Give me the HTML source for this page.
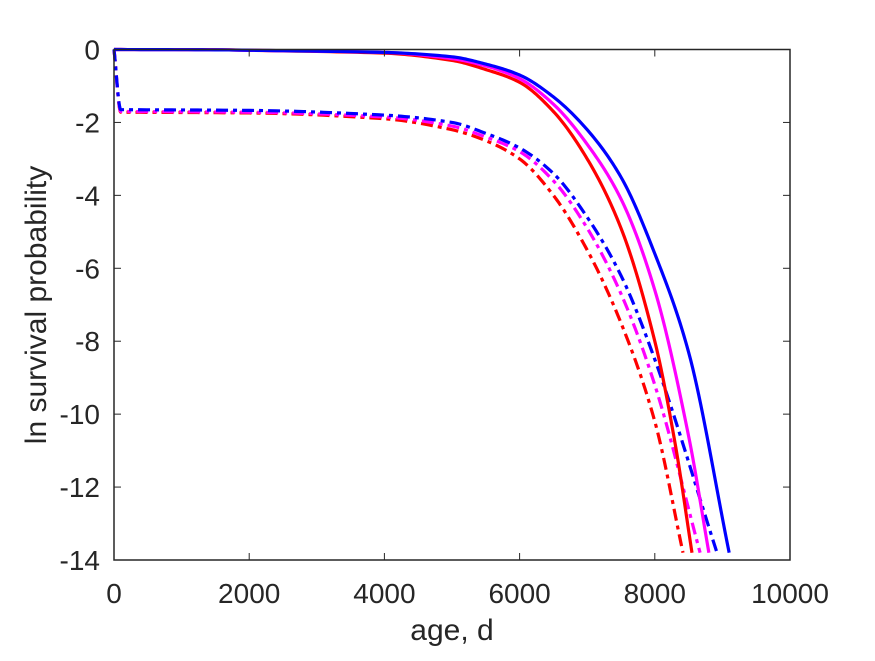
<!DOCTYPE html>
<html><head><meta charset="utf-8"><style>
body{margin:0;background:#fff;}
svg text{font-family:"Liberation Sans",sans-serif;fill:#262626;}
</style></head><body>
<svg id="chart" width="875" height="656">
<rect width="875" height="656" fill="#fff"/>
<g id="plot"></g>
<g id="axes"></g>
<text x="452" y="640" font-size="30" text-anchor="middle">age, d</text>
<text transform="translate(46,305) rotate(-90)" font-size="30" text-anchor="middle">ln survival probability</text>
</svg>
<script>
const xTicks=[0,2000,4000,6000,8000,10000];
const yTicks=[0,-2,-4,-6,-8,-10,-12,-14];
const redSolidT=[0,2000,4000,5000,5500,6000,6500,7000,7500,8000,8300,8550];
const redSolidV=[0,-0.02,-0.1,-0.3,-0.55,-0.9,-1.7,-3.0,-4.9,-8.0,-10.8,-13.8];
const magSolidT=[0,2000,4000,5000,5500,6000,6500,7000,7500,8000,8500,8800];
const magSolidV=[0,-0.02,-0.08,-0.25,-0.45,-0.8,-1.5,-2.6,-4.1,-6.6,-10.6,-13.8];
const bluSolidT=[0,2000,4000,5000,5500,6000,6500,7000,7500,8000,8500,9100];
const bluSolidV=[0,-0.02,-0.08,-0.2,-0.4,-0.7,-1.3,-2.2,-3.5,-5.6,-8.3,-13.8];
const redDDT=[0,100,2000,4000,5000,5500,6000,6500,7000,7500,8000,8417];
const redDDV=[0,-1.72,-1.74,-1.9,-2.2,-2.5,-3.0,-4.0,-5.5,-7.5,-10.2,-13.8];
const magDDT=[0,100,2000,4000,5000,5500,6000,6500,7000,7500,8000,8670];
const magDDV=[0,-1.7,-1.72,-1.85,-2.1,-2.4,-2.8,-3.6,-4.9,-6.7,-9.2,-13.8];
const bluDDT=[0,100,2000,4000,5000,5500,6000,6500,7000,7500,8000,8920];
const bluDDV=[0,-1.65,-1.67,-1.8,-2.0,-2.3,-2.7,-3.4,-4.6,-6.2,-8.5,-13.8];
const X0=114,X1=790,Y0=49.5,Y1=560;
const sx=v=>X0+(v/10000)*(X1-X0);
const sy=v=>Y0+(-v/14)*(Y1-Y0);
const NS="http://www.w3.org/2000/svg";
const plot=document.getElementById('plot'),axes=document.getElementById('axes');
function mk(tag,attrs,parent){const e=document.createElementNS(NS,tag);for(const k in attrs)e.setAttribute(k,attrs[k]);parent.appendChild(e);return e;}
function pathD(T,V){
  const n=T.length,d=[],m=new Array(n);
  for(let i=0;i<n-1;i++)d.push((V[i+1]-V[i])/(T[i+1]-T[i]));
  m[0]=d[0];m[n-1]=d[n-2];
  for(let i=1;i<n-1;i++){m[i]=(d[i-1]*d[i]<=0)?0:(2/(1/d[i-1]+1/d[i]));}
  m[1]=d[1]; // sharp corner after initial drop / flat start
  let s='M'+sx(T[0])+','+sy(V[0]);
  for(let i=0;i<n-1;i++){const h=T[i+1]-T[i];
    for(let k=1;k<=20;k++){const u=k/20,h00=2*u*u*u-3*u*u+1,h10=u*u*u-2*u*u+u,h01=-2*u*u*u+3*u*u,h11=u*u*u-u*u;
      const t=T[i]+u*h,v=h00*V[i]+h10*h*m[i]+h01*V[i+1]+h11*h*m[i+1];
      s+=' L'+sx(t).toFixed(2)+','+sy(v).toFixed(2);}}
  return s;}
const series=[
[redDDT,redDDV,'#ff0000',true,'red-dashdot-line'],
[magDDT,magDDV,'#ff00ff',true,'magenta-dashdot-line'],
[bluDDT,bluDDV,'#0000ff',true,'blue-dashdot-line'],
[redSolidT,redSolidV,'#ff0000',false,'red-solid-line'],
[magSolidT,magSolidV,'#ff00ff',false,'magenta-solid-line'],
[bluSolidT,bluSolidV,'#0000ff',false,'blue-solid-line']];
series.forEach(s=>{const el=mk('path',{d:pathD(s[0],s[1]),fill:'none',stroke:s[2],'stroke-width':3.2,'stroke-linejoin':'round'},plot);
if(s[3])el.setAttribute('stroke-dasharray','12,5,4,5');

});
const frame=mk('rect',{x:X0,y:Y0,width:X1-X0,height:Y1-Y0,fill:'none',stroke:'#262626','stroke-width':1.5},axes);


xTicks.forEach(t=>{const x=sx(t);
mk('line',{x1:x,x2:x,y1:Y1,y2:Y1-7,stroke:'#262626'},axes);mk('line',{x1:x,x2:x,y1:Y0,y2:Y0+7,stroke:'#262626'},axes);
const tx=mk('text',{x:x,y:Y1+43,'font-size':28,'text-anchor':'middle'},axes);tx.textContent=t;

});
yTicks.forEach(t=>{const y=sy(t);
mk('line',{x1:X0,x2:X0+7,y1:y,y2:y,stroke:'#262626'},axes);mk('line',{x1:X1,x2:X1-7,y1:y,y2:y,stroke:'#262626'},axes);
const tx=mk('text',{x:X0-14,y:y+10,'font-size':28,'text-anchor':'end'},axes);tx.textContent=t;

});
</script>
</body></html>
